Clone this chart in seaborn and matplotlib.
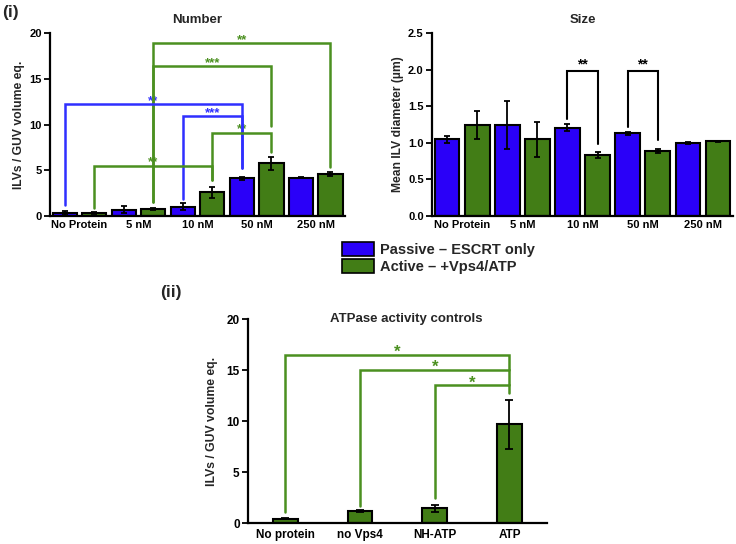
import numpy as np
import pandas as pd
import matplotlib
matplotlib.use("Agg")
import matplotlib.pyplot as plt
import seaborn as sns
from matplotlib.patches import Patch

# ---------------- data ----------------
conc = ["No Protein", "5 nM", "10 nM", "50 nM", "250 nM"]
series = ["Passive – ESCRT only", "Active – +Vps4/ATP"]

num_passive = [0.3, 0.7, 1.0, 4.1, 4.2]
num_passive_err = [0.2, 0.35, 0.4, 0.2, 0.1]
num_active = [0.35, 0.75, 2.6, 5.75, 4.6]
num_active_err = [0.1, 0.15, 0.6, 0.7, 0.25]

size_passive = [1.05, 1.24, 1.21, 1.13, 1.0]
size_passive_err = [0.05, 0.33, 0.05, 0.02, 0.01]
size_active = [1.24, 1.05, 0.83, 0.89, 1.02]
size_active_err = [0.19, 0.24, 0.04, 0.03, 0.01]

atp_cond = ["No protein", "no Vps4", "NH-ATP", "ATP"]
atp_vals = [0.4, 1.15, 1.45, 9.7]
atp_err = [0.05, 0.08, 0.35, 2.4]

# significance brackets: (series_left, idx_left, series_right, idx_right, top, left_end, right_end, label, colour)
num_brackets = [
    (1, 1, 1, 4, 18.9, 1.5, 5.4, "**", "g"),
    (1, 1, 1, 3, 16.4, 1.5, 9.8, "***", "g"),
    (0, 0, 0, 3, 12.2, 1.2, 5.2, "**", "b"),
    (0, 2, 0, 3, 10.9, 1.9, 5.2, "***", "b"),
    (1, 2, 1, 3, 9.1, 3.9, 7.0, "**", "g"),
    (1, 0, 1, 2, 5.5, 0.9, 3.9, "**", "g"),
]
size_brackets = [
    (0, 2, 1, 2, 1.98, 1.32, 0.98, "**", "k"),
    (0, 3, 1, 3, 1.98, 1.22, 1.04, "**", "k"),
]
atp_brackets = [
    (0, 3, 16.5, 1.1, 15.0, "*"),
    (1, 3, 15.0, 1.7, 13.5, "*"),
    (2, 3, 13.5, 2.5, 12.7, "*"),
]

# ---------------- style ----------------
BLUE = "#2a00f8"
GREEN = "#427d16"
BR_COL = {"b": "#2f2fff", "g": "#4b9020", "k": "black"}

sns.set_theme(style="ticks")
plt.rcParams["font.family"] = ["Liberation Sans", "DejaVu Sans"]
plt.rcParams["font.weight"] = "bold"
plt.rcParams["axes.labelweight"] = "bold"
plt.rcParams["axes.titleweight"] = "bold"

fig = plt.figure(figsize=(7.36, 5.44), dpi=100)
ax1 = fig.add_axes([0.068, 0.603, 0.401, 0.336])
ax2 = fig.add_axes([0.587, 0.603, 0.409, 0.336])
ax3 = fig.add_axes([0.337, 0.0386, 0.406, 0.375])


def style_axis(ax, fs=8):
    sns.despine(ax=ax)
    for s in ["left", "bottom"]:
        ax.spines[s].set_linewidth(1.6)
        ax.spines[s].set_color("black")
    ax.tick_params(axis="y", length=4, width=1.3, labelsize=fs, pad=2, colors="black")
    ax.tick_params(axis="x", length=0, labelsize=fs, pad=3, colors="black")
    for lab in ax.get_xticklabels() + ax.get_yticklabels():
        lab.set_fontweight("bold")
    ax.set_xlabel("")


def grouped(ax, pv, pe, av, ae):
    df = pd.DataFrame({
        "conc": conc * 2,
        "series": [series[0]] * len(conc) + [series[1]] * len(conc),
        "val": list(pv) + list(av),
    })
    sns.barplot(data=df, x="conc", y="val", hue="series", order=conc,
                hue_order=series, palette=[BLUE, GREEN], saturation=1,
                width=1.0, gap=0.18, errorbar=None, edgecolor="black",
                linewidth=1.5, legend=False, ax=ax, zorder=2)
    pos = []
    for cont, errs in zip(ax.containers, [pe, ae]):
        xs = [p.get_x() + p.get_width() / 2 for p in cont]
        ys = [p.get_height() for p in cont]
        ax.errorbar(xs, ys, yerr=errs, fmt="none", ecolor="black",
                    elinewidth=1.3, capsize=2.5, capthick=1.3, zorder=3)
        pos.append(xs)
    return pos


def bracket(ax, x1, x2, top, e1, e2, label, col, fs=9.5, lw=1.8, dy=0.0):
    ax.plot([x1, x1, x2, x2], [e1, top, top, e2], color=col, lw=lw,
            solid_joinstyle="miter", zorder=4, clip_on=False)
    ax.text((x1 + x2) / 2, top + dy, label, color=col, ha="center",
            va="bottom", fontsize=fs, fontweight="bold")


# ---- Number ----
pos1 = grouped(ax1, num_passive, num_passive_err, num_active, num_active_err)
ax1.set_xlim(-0.5, 4.5)
ax1.set_ylim(0, 20)
ax1.set_yticks([0, 5, 10, 15, 20])
ax1.set_ylabel("ILVs / GUV volume eq.", fontsize=8.7, labelpad=3)
style_axis(ax1)
for s1, i1, s2, i2, top, e1, e2, lab, c in num_brackets:
    bracket(ax1, pos1[s1][i1], pos1[s2][i2], top, e1, e2, lab, BR_COL[c], fs=9.5, dy=-0.3)
ax1.set_title("Number", fontsize=9.5, fontweight="bold", pad=7)

# ---- Size ----
pos2 = grouped(ax2, size_passive, size_passive_err, size_active, size_active_err)
ax2.set_xlim(-0.5, 4.5)
ax2.set_ylim(0, 2.5)
ax2.set_yticks([0.0, 0.5, 1.0, 1.5, 2.0, 2.5])
ax2.set_yticklabels([f"{v:.1f}" for v in [0.0, 0.5, 1.0, 1.5, 2.0, 2.5]])
ax2.set_ylabel("Mean ILV diameter (µm)", fontsize=8.7, labelpad=3)
style_axis(ax2)
for s1, i1, s2, i2, top, e1, e2, lab, c in size_brackets:
    bracket(ax2, pos2[s1][i1], pos2[s2][i2], top, e1, e2, lab, BR_COL[c],
            fs=10, lw=1.5, dy=0.0)
ax2.set_title("Size", fontsize=9.5, fontweight="bold", pad=7)

# ---- ATPase controls ----
df3 = pd.DataFrame({"cond": atp_cond, "val": atp_vals})
sns.barplot(data=df3, x="cond", y="val", order=atp_cond, color=GREEN,
            saturation=1, width=0.33, errorbar=None, edgecolor="black",
            linewidth=1.5, ax=ax3, zorder=2)
xs3 = [p.get_x() + p.get_width() / 2 for p in ax3.containers[0]]
ax3.errorbar(xs3, atp_vals, yerr=atp_err, fmt="none", ecolor="black",
             elinewidth=1.3, capsize=3, capthick=1.3, zorder=3)
ax3.set_xlim(-0.5, 3.5)
ax3.set_ylim(0, 20)
ax3.set_yticks([0, 5, 10, 15, 20])
ax3.set_ylabel("ILVs / GUV volume eq.", fontsize=8.8, labelpad=6)
style_axis(ax3, fs=8.5)
ax3.tick_params(axis="x", pad=4)
for i1, i2, top, e1, e2, lab in atp_brackets:
    bracket(ax3, xs3[i1], xs3[i2], top, e1, e2, lab, BR_COL["g"], fs=12, dy=-0.5)
ax3.text(0.53, 1.0, "ATPase activity controls", transform=ax3.transAxes,
         ha="center", va="center", fontsize=9.5, fontweight="bold")

# ---- legend ----
handles = [Patch(facecolor=BLUE, edgecolor="black", linewidth=1.2),
           Patch(facecolor=GREEN, edgecolor="black", linewidth=1.2)]
fig.legend(handles, series, loc="upper left",
           bbox_to_anchor=(332 / 736, 1 - 232 / 544), frameon=False,
           prop={"family": "Liberation Sans", "weight": "bold", "size": 10.5},
           handlelength=2.2, handleheight=1.05, handletextpad=0.4,
           labelspacing=0.15, borderpad=0.2)

# panel labels
fig.text(2 / 736, 1 - 12 / 544, "(i)", fontsize=12.5, fontweight="bold", va="center")
fig.text(160 / 736, 1 - 292 / 544, "(ii)", fontsize=12.5, fontweight="bold", va="center")

fig.savefig("out.png", dpi=100, facecolor="white")
